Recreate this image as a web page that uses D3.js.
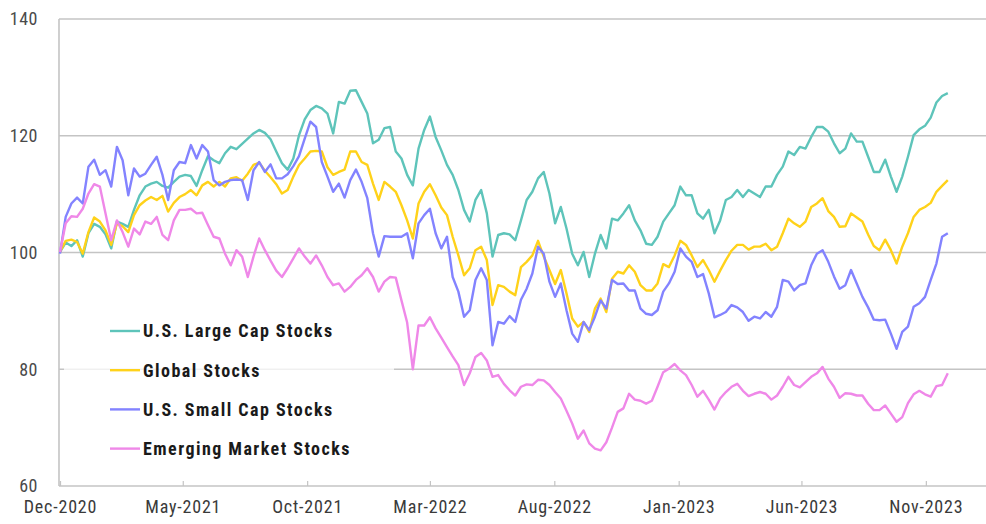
<!DOCTYPE html>
<html>
<head>
<meta charset="utf-8">
<script src="https://cdn.jsdelivr.net/npm/d3@7"></script>
<style>
  html, body { margin: 0; padding: 0; background: #ffffff; }
  svg { display: block; }
</style>
</head>
<body>
<svg id="chart" width="986" height="524"></svg>
<script>
// ---- data (weekly observations, indexed to 100) ----
const startDate = "2020-12-01";
const stepDays = 7;

const largeCap = [100.1,101.7,101.1,102.1,99.3,103.3,104.9,104.4,103.1,100.7,105.3,104.9,104.4,107.3,109.8,111.3,111.8,112.1,111.4,111.1,112.1,113,113.3,113.1,111.4,114.1,116.5,
115.8,115.3,117,118.1,117.7,118.6,119.5,120.4,121,120.5,119.4,117.3,115.3,114.2,116.1,120.1,122.8,124.4,125.1,124.7,123.8,120.4,125.8,125.5,127.7,
127.8,125.8,123.8,118.7,119.3,121.3,121.5,117.3,116.1,113.3,111.5,117.8,121,123.3,119.8,117.5,115,113.3,110.7,107.3,105.3,109,110.7,106.7,99.3,103,
103.3,103.1,102.1,105.5,109,110.4,112.7,113.8,110.1,105,107.8,104.1,99.8,97.8,100.1,95.8,99.8,103,100.7,105.8,105.5,106.7,108.1,105.5,103.8,101.5,101.3,
102.7,105.3,106.7,108.1,111.3,109.8,109.8,106.7,105.8,107.3,103.3,105.5,109,109.5,110.7,109.5,110.7,110.1,109.5,111.3,111.3,113.3,114.7,117.3,116.7,118.1,
117.8,119.8,121.5,121.5,120.7,118.7,117,117.8,120.4,119,119,116.4,113.8,113.8,115.9,113,110.4,113,116.4,120.1,121.1,121.7,123.1,125.7,126.8,127.3];

const globalStocks = [100.1,102,102.2,101.8,99.8,103.5,106,105.3,103.8,101.3,105,104.5,103.5,106.4,108.1,108.9,109.5,109,109.7,107,108.5,109.5,110,110.7,109.8,111.5,112.1,
111.3,112.1,111.3,112.7,112.9,112.3,113.5,115,115.4,114,112.9,111.7,110.1,110.7,113,115,116.1,117.3,117.4,117.3,114.6,113.3,113.8,114.2,117.3,
117.3,115.5,115,111.8,109,112.1,111.3,110.4,108.1,105.5,102.4,108.4,110.4,111.7,109.8,107.7,106.4,102.7,99.5,96.1,97.3,100.4,101,98.7,91,94.4,
94.1,93.3,92.7,97.5,98.4,99.5,102,99.3,97,94.6,97,93,88.7,87.3,88.1,86.4,90.4,92.1,89.8,95.5,96.7,96.4,97.8,96.7,94.4,93.5,93.5,
94.7,98,97.5,99.5,102,101.3,99.5,97.5,98.7,97,95,96.9,98.7,100.3,101.3,101.3,100.5,101,101,101.5,100.4,101,103.3,105.8,105,104.4,
105.3,107.8,108.4,109.3,107.1,106.1,104.4,104.5,106.7,106,105.3,103.1,101.1,100.4,102.2,100.4,98.1,101,103.3,106.1,107.3,107.8,108.5,110.4,111.4,112.4];

const smallCap = [99.8,106.1,108.4,109.4,108.4,114.7,115.9,113.3,114.1,111.3,118.1,115.8,109.8,114.4,113,113.5,115,116.4,113.3,109,114.1,115.5,115.3,118.4,116.1,118.4,117.3,
112.4,111.5,112.1,112.4,112.5,112.4,109,114.1,115.5,113.8,115.1,112.7,112.7,113.4,114.8,116.5,119.5,122.4,121.5,115.5,113,110.4,111.8,109.4,112.4,
114.2,112.1,109.3,103.3,99.3,102.8,102.7,102.7,102.7,103.3,99,105,106.4,107.5,103.3,100.7,102.7,95.8,93.3,89,90.1,95.3,97.3,95.3,84.1,88.1,
87.8,89.1,88.1,91.9,93.8,96.4,101,99.8,95,92.4,94.7,90.1,86.1,84.7,88.1,86.7,89,91.8,90.4,95.3,94.6,94.7,93.5,93.5,90.4,89.5,89.3,
90.1,93.3,94.7,96.7,100.7,99.3,98.4,95.8,96.3,93,88.9,89.3,89.8,91,90.6,89.8,88.3,89,88.7,89.8,89,90.7,95.3,95,93.5,94.4,
94.7,97.8,99.8,100.4,98.4,95.9,93.8,94.4,97,94.7,92.4,90.6,88.5,88.4,88.5,86.1,83.5,86.4,87.3,90.7,91.3,92.4,95.3,98.1,102.7,103.3];

const emerging = [100.1,105,106.2,106.1,107.5,110.1,111.7,111.3,106.7,102.1,105.5,103.5,101,104.1,103.1,105.3,104.9,106.1,103,102.1,105.5,107.3,107.3,107.5,106.7,106.8,104.7,
102.7,102.4,99.8,97.8,100.4,99.3,95.8,99.3,102.4,100.4,98.6,96.9,95.8,97.3,99,100.7,99.3,98.1,99.5,97.8,95.8,94.4,94.7,93.3,94.1,
95.3,96.1,97.3,95.8,93.3,95,95.8,95.7,91.8,88,80,87.5,87.5,88.9,87,85.4,83.8,82.2,80.7,77.3,79.3,82.1,82.8,81.5,78.7,79,
77.5,76.4,75.5,77,77.4,77.3,78.2,78.1,77.3,76.1,75,72.9,70.7,68.1,69.5,67.3,66.4,66.1,67.5,70,72.7,73.3,75.8,74.8,74.6,74.1,74.6,
77,79.5,80.1,80.9,79.8,79,77.3,75.3,76.3,74.8,73.1,75,76.1,77,77.5,76.3,75.4,75.8,76.1,75.8,74.8,75.5,77,78.7,77.3,76.9,
77.8,78.7,79.3,80.4,78.4,77,75.1,75.9,75.8,75.5,75.5,74.1,73,73,73.8,72.4,71,71.8,74.2,75.7,76.3,75.7,75.3,77.1,77.3,79.3];

const seriesNames = ["U.S. Large Cap Stocks", "Global Stocks", "U.S. Small Cap Stocks", "Emerging Market Stocks"];
const seriesColors = ["#5ec4ba", "#ffd21a", "#8383ff", "#ef88e8"];
const yTicks = [60, 80, 100, 120, 140];
const xTickDates = ["2020-12-01","2021-05-01","2021-10-01","2022-03-01","2022-08-01","2023-01-01","2023-06-01","2023-11-01"];
const xTickLabels = ["Dec-2020","May-2021","Oct-2021","Mar-2022","Aug-2022","Jan-2023","Jun-2023","Nov-2023"];

// ---- build ----
const narrowFont = '"Roboto Condensed", "Liberation Sans Narrow", "Arial Narrow", "Liberation Sans", Arial, sans-serif';
const parse = d3.utcParse("%Y-%m-%d");
const t0 = parse(startDate);
const seriesValues = [largeCap, globalStocks, smallCap, emerging];
const series = seriesValues.map((vals, si) => ({
  name: seriesNames[si],
  color: seriesColors[si],
  points: vals.map((v, i) => ({ date: d3.utcDay.offset(t0, i * stepDays), value: v }))
}));

const svg = d3.select("#chart");
const mLeft = 60, mRight = 986, mTop = 19, mBottom = 486;

const x = d3.scaleUtc()
  .domain([parse("2020-12-01"), parse("2024-01-14")])
  .range([mLeft, mRight]);
const y = d3.scaleLinear().domain([60, 140]).range([mBottom, mTop]);

// gridlines
svg.append("g")
  .selectAll("line")
  .data(yTicks.filter(d => d > 60))
  .join("line")
  .attr("x1", mLeft - 1).attr("x2", mRight)
  .attr("y1", d => y(d)).attr("y2", d => y(d))
  .attr("stroke", "#c4c4c4").attr("stroke-width", 1.6);

// left axis line
svg.append("line")
  .attr("x1", mLeft - 1).attr("x2", mLeft - 1)
  .attr("y1", mTop).attr("y2", mBottom)
  .attr("stroke", "#c4c4c4").attr("stroke-width", 1.6);

// bottom axis
const xAxis = d3.axisBottom(x)
  .tickValues(xTickDates.map(parse))
  .tickSize(-5)
  .tickPadding(14)
  .tickFormat((d, i) => xTickLabels[i]);
const gx = svg.append("g").attr("transform", `translate(0,${mBottom})`).call(xAxis);
gx.attr("font-family", null).attr("font-size", null);
gx.select(".domain").attr("stroke", "#c4c4c4").attr("stroke-width", 1.6)
  .attr("d", `M${mLeft - 1},0H${mRight}`);
gx.selectAll(".tick line").attr("stroke", "#c4c4c4").attr("stroke-width", 1.2);
gx.selectAll(".tick text")
  .attr("font-family", narrowFont)
  .attr("font-size", 18).attr("letter-spacing", 0.8)
  .attr("fill", "#3a3a3a");

// y axis labels
const yAxis = d3.axisLeft(y).tickValues(yTicks).tickSize(0).tickPadding(22);
const gy = svg.append("g").attr("transform", `translate(${mLeft},0)`).call(yAxis);
gy.attr("font-family", null).attr("font-size", null);
gy.select(".domain").remove();
gy.selectAll(".tick text")
  .attr("font-family", narrowFont)
  .attr("font-size", 18).attr("letter-spacing", 0.5)
  .attr("fill", "#4a4a4a");

// legend backdrop (softens the 80 gridline behind it)
svg.append("rect")
  .attr("x", mLeft + 4).attr("y", 305).attr("width", 330).attr("height", 160)
  .attr("fill", "#ffffff").attr("opacity", 0.75);

// lines
const line = d3.line().x(d => x(d.date)).y(d => y(d.value)).curve(d3.curveLinear);
svg.append("g")
  .selectAll("path")
  .data(series)
  .join("path")
  .attr("d", d => line(d.points))
  .attr("fill", "none")
  .attr("stroke", d => d.color)
  .attr("stroke-width", 2.4)
  .attr("stroke-linejoin", "round");

// legend
const lg = svg.append("g").attr("transform", "translate(110,331)");
const rows = lg.selectAll("g").data(series).join("g")
  .attr("transform", (d, i) => `translate(0,${i * 39.2})`);
rows.append("line")
  .attr("x1", 0).attr("x2", 30).attr("y1", 0).attr("y2", 0)
  .attr("stroke", d => d.color).attr("stroke-width", 2.4);
rows.append("text")
  .attr("x", 33).attr("y", 0).attr("dy", "0.35em")
  .attr("font-family", narrowFont)
  .attr("font-weight", "bold").attr("font-size", 18).attr("letter-spacing", 1.45)
  .attr("fill", "#1a1a1a")
  .text(d => d.name);
</script>
</body>
</html>
